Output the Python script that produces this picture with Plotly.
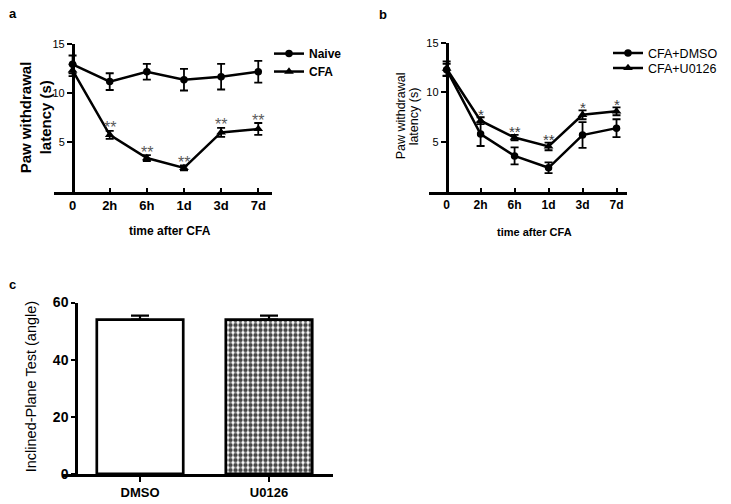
import plotly.graph_objects as go

W, H = 731, 504
FONT = "Liberation Sans, Arial, sans-serif"

# ---------------- data ----------------
time_labels = ["0", "2h", "6h", "1d", "3d", "7d"]

# panel a
naive_mean = [12.9, 11.15, 12.15, 11.35, 11.65, 12.15]
naive_err = [0.9, 0.85, 0.8, 1.1, 1.3, 1.1]
cfa_mean = [12.3, 5.75, 3.4, 2.4, 6.0, 6.35]
cfa_err = [0.6, 0.4, 0.3, 0.25, 0.45, 0.6]
cfa_sig = ["", "**", "**", "**", "**", "**"]

# panel b
dmso_mean = [12.3, 5.8, 3.6, 2.4, 5.7, 6.4]
dmso_err = [0.6, 1.2, 0.85, 0.55, 1.3, 0.9]
u0126_mean = [12.4, 7.15, 5.45, 4.55, 7.75, 8.1]
u0126_err = [0.75, 0.35, 0.27, 0.38, 0.45, 0.4]
u0126_sig = ["", "*", "**", "**", "*", "*"]

# panel c
groups = ["DMSO", "U0126"]
angle_mean = [54.0, 54.0]
angle_err = [1.4, 1.4]

# ---------------- helpers ----------------
def px(x):
    return x / W

# vertical calibration of the rendered page
Y0, YSPAN = 7.2, 490.0

def py(y):
    return 1 - (y - Y0) / YSPAN

fig = go.Figure()

line_kw = dict(color="black", width=2.5)
err_kw = dict(type="data", visible=True, color="black", thickness=1.8, width=4)

# panel a traces
fig.add_trace(go.Scatter(x=time_labels, y=naive_mean, name="Naive", mode="lines+markers",
                         line=line_kw, marker=dict(symbol="circle", size=7.5, color="black"),
                         error_y=dict(array=naive_err, **err_kw), xaxis="x", yaxis="y",
                         legend="legend"))
fig.add_trace(go.Scatter(x=time_labels, y=cfa_mean, name="CFA", mode="lines+markers",
                         line=line_kw, marker=dict(symbol="triangle-up", size=8.5, color="black"),
                         error_y=dict(array=cfa_err, **err_kw), xaxis="x", yaxis="y",
                         legend="legend2"))

# panel b traces
fig.add_trace(go.Scatter(x=time_labels, y=dmso_mean, name="CFA+DMSO", mode="lines+markers",
                         line=line_kw, marker=dict(symbol="circle", size=7.5, color="black"),
                         error_y=dict(array=dmso_err, **err_kw), xaxis="x2", yaxis="y2",
                         legend="legend3"))
fig.add_trace(go.Scatter(x=time_labels, y=u0126_mean, name="CFA+U0126", mode="lines+markers",
                         line=line_kw, marker=dict(symbol="triangle-up", size=8.5, color="black"),
                         error_y=dict(array=u0126_err, **err_kw), xaxis="x2", yaxis="y2",
                         legend="legend4"))

# panel c bars
fig.add_trace(go.Bar(x=groups, y=angle_mean, width=0.67, showlegend=False,
                     marker=dict(color=["white", "white"],
                                 line=dict(color="black", width=2.7),
                                 pattern=dict(shape=["", "."], fgcolor="black",
                                              fgopacity=1, size=5, solidity=0.6,
                                              fillmode="overlay")),
                     error_y=dict(type="data", symmetric=False, array=angle_err,
                                  arrayminus=[0] * len(angle_err), color="black",
                                  thickness=2.2, width=9),
                     xaxis="x3", yaxis="y3"))

annotations = []
# significance marks
for lab, m, e, s in zip(time_labels, cfa_mean, cfa_err, cfa_sig):
    if s:
        annotations.append(dict(x=lab, y=m + e + 0.3, xref="x", yref="y", text=s,
                                showarrow=False, yanchor="middle",
                                font=dict(family=FONT, size=16, color="#5a5a5a")))
for lab, m, e, s in zip(time_labels, u0126_mean, u0126_err, u0126_sig):
    if s:
        annotations.append(dict(x=lab, y=m + e + 0.3, xref="x2", yref="y2", text=s,
                                showarrow=False, yanchor="middle",
                                font=dict(family=FONT, size=15, color="#404040")))

def note(text, x, y, size, bold=False, angle=0, xanchor="center"):
    annotations.append(dict(x=px(x), y=py(y), xref="paper", yref="paper", text=text,
                            showarrow=False, textangle=angle, xanchor=xanchor, yanchor="middle",
                            font=dict(family=FONT, size=size, color="black",
                                      weight="bold" if bold else "normal")))

# panel labels
note("a", 13, 13, 13, bold=True)
note("b", 383, 14, 13, bold=True)
note("c", 12, 285, 13, bold=True)
# axis titles
note("Paw withdrawal", 25, 117, 15, bold=True, angle=-90)
note("latency (s)", 45, 117, 15, bold=True, angle=-90)
note("time after CFA", 170, 231, 12, bold=True)
note("Paw withdrawal", 401, 116, 12.5, angle=-90)
note("latency (s)", 414, 116, 12.5, angle=-90)
note("time after CFA", 534, 232, 11, bold=True)
note("Inclined-Plane Test (angle)", 31, 388, 14.5, angle=-90)

axis_common = dict(showline=True, linecolor="black", linewidth=2.5, showgrid=False,
                   zeroline=False, tickcolor="black", tickwidth=2)

def leg(x, y, size, bold):
    return dict(x=px(x), y=py(y), xanchor="left", yanchor="middle",
                font=dict(size=size, weight="bold" if bold else "normal"),
                bgcolor="rgba(0,0,0,0)", borderwidth=0)

fig.update_layout(
    width=W, height=H, margin=dict(l=0, r=0, t=0, b=0),
    paper_bgcolor="white", plot_bgcolor="white",
    font=dict(family=FONT, color="black"),
    annotations=annotations,
    # panel a
    xaxis=dict(domain=[px(54), px(272)], range=[-0.5, 5.37], anchor="y", type="category",
               ticks="inside", ticklen=4, tickfont=dict(size=13, weight="bold"), **axis_common),
    yaxis=dict(domain=[py(191.5), py(43)], range=[0, 15], anchor="free", position=px(72.7),
               tickvals=[5, 10, 15], ticks="outside", ticklen=5,
               tickfont=dict(size=11), **axis_common),
    # panel b
    xaxis2=dict(domain=[px(429.3), px(626.7)], range=[-0.51, 5.3], anchor="y2", type="category",
                ticks="inside", ticklen=4, tickfont=dict(size=12, weight="bold"), **axis_common),
    yaxis2=dict(domain=[py(191.5), py(42.3)], range=[0, 15], anchor="free", position=px(446.5),
                tickvals=[5, 10, 15], ticks="outside", ticklen=5,
                tickfont=dict(size=11), **axis_common),
    # panel c
    xaxis3=dict(domain=[px(63), px(333)], range=[-0.597, 1.496], anchor="y3", type="category",
                ticks="outside", ticklen=5, tickfont=dict(size=13, weight="bold"), **axis_common),
    yaxis3=dict(domain=[py(475), py(303)], range=[0, 60], anchor="free", position=px(76),
                tickvals=[0, 20, 40, 60], ticks="outside", ticklen=4,
                tickfont=dict(size=14, weight="bold"), **axis_common),
    legend=leg(269, 53, 12, True),
    legend2=leg(269, 71, 12, True),
    legend3=leg(608, 52.7, 12.5, False),
    legend4=leg(608, 67.7, 12.5, False),
    bargap=0.33,
)

fig.write_html(
    "out.html",
    config={"displayModeBar": False},
    post_script=("document.documentElement.style.margin='0px';"
                 "document.body.style.margin='0px';"
                 "document.body.style.overflow='hidden';"
                 "var gd=document.getElementById('{plot_id}');"
                 "gd.style.position='absolute';gd.style.left='0px';gd.style.top='0px';"),
)
